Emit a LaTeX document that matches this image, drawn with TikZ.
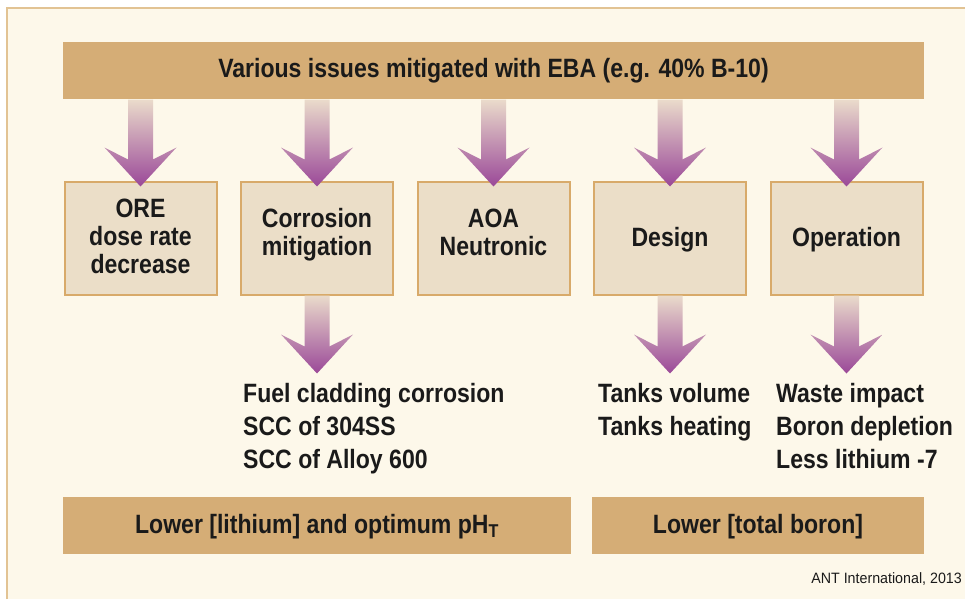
\documentclass[tikz,border=0pt]{standalone}
\usepackage{fontspec}
\setmainfont{Liberation Sans}[FakeStretch=0.87]
\newfontfamily\creditfont{Liberation Sans}[FakeStretch=0.95]
\usetikzlibrary{calc}

\definecolor{paper}{HTML}{FDF8EA}
\definecolor{frameline}{HTML}{E2C393}
\definecolor{barfill}{HTML}{D5AD76}
\definecolor{boxfill}{HTML}{EBDEC8}
\definecolor{boxline}{HTML}{D8AA6A}
\definecolor{arrtop}{HTML}{EADBCB}
\definecolor{arrbot}{HTML}{9A4898}
\definecolor{ink}{HTML}{1A1A1A}

% Broad shaded arrow: shaft from #1 down to the tip #2
\newcommand\fatarrow[2]{%
  \shade[top color=arrtop, bottom color=arrbot]
    let \p1=(#1), \p2=(#2) in
    (\x2-12.5pt,\y1) -- (\x2-12.5pt,\y2+27pt) -- (\x2-36pt,\y2+39pt) -- (\x2,\y2)
    -- (\x2+36pt,\y2+39pt) -- (\x2+12.5pt,\y2+27pt) -- (\x2+12.5pt,\y1) -- cycle;}

\tikzset{
  txt/.style={text=ink, inner sep=0pt, font=\fontsize{26.5}{28}\selectfont\bfseries},
  bar/.style={txt, fill=barfill, minimum height=57pt, text height=17pt, text depth=0pt},
  issue/.style={draw=boxline, line width=2pt, fill=boxfill, minimum width=152pt, minimum height=113pt, inner sep=0pt},
  boxtxt/.style={txt, anchor=base},
  listtxt/.style={txt, anchor=base west},
  credit/.style={text=ink, inner sep=0pt, font=\creditfont\fontsize{15}{18}\selectfont, anchor=base east}
}

\begin{document}
\begin{tikzpicture}[x=1pt, y=-1pt]
  \useasboundingbox (0,0) rectangle (965,599);
  % page and frame
  \fill[white] (0,0) rectangle (965,599);
  \fill[paper] (7,8) rectangle (965,599);
  \draw[frameline, line width=1.5pt] (7,599) -- (7,8) -- (965,8);

  % headline bar
  \node[bar, minimum width=861pt, text height=12.6pt] (top) at (493.5,71) {Various issues mitigated with EBA (e.g. 40\% B-10)};

  % issue boxes
  \node[issue] (ore)  at (140.5,238) {};
  \node[issue] (corr) at (317,238) {};
  \node[issue] (aoa)  at (493.5,238) {};
  \node[issue] (des)  at (670,238) {};
  \node[issue] (oper) at (846.5,238) {};

  \node[boxtxt] (ore-1)  at ([yshift=21pt]ore.center)  {ORE};
  \node[boxtxt] (ore-2)  at ([yshift=-7pt]ore.center)  {dose rate};
  \node[boxtxt] (ore-3)  at ([yshift=-35pt]ore.center) {decrease};
  \node[boxtxt] (corr-1) at ([yshift=11pt]corr.center) {Corrosion};
  \node[boxtxt] (corr-2) at ([yshift=-17pt]corr.center) {mitigation};
  \node[boxtxt] (aoa-1)  at ([yshift=11pt]aoa.center)  {AOA};
  \node[boxtxt] (aoa-2)  at ([yshift=-17pt]aoa.center) {Neutronic};
  \node[boxtxt] (des-1)  at ([yshift=-8.5pt]des.center) {Design};
  \node[boxtxt] (oper-1) at ([yshift=-8.5pt]oper.center) {Operation};

  % arrows from the headline into each box
  \foreach \b in {ore,corr,aoa,des,oper}{
    \coordinate (\b-in) at ([yshift=-6pt]\b.north);
    \fatarrow{top.south -| \b-in}{\b-in}
  }

  % arrows leaving three of the boxes
  \foreach \b in {corr,des,oper}{
    \coordinate (\b-out) at ([yshift=-78pt]\b.south);
    \fatarrow{\b.south}{\b-out}
  }

  % consequences listed under the arrows
  \node[listtxt] (c-1) at (243,402) {Fuel cladding corrosion};
  \node[listtxt] (c-2) at (243,435) {SCC of 304SS};
  \node[listtxt] (c-3) at (243,468) {SCC of Alloy 600};
  \node[listtxt] (d-1) at (598,402) {Tanks volume};
  \node[listtxt] (d-2) at (598,435) {Tanks heating};
  \node[listtxt] (o-1) at (776,402) {Waste impact};
  \node[listtxt] (o-2) at (776,435) {Boron depletion};
  \node[listtxt] (o-3) at (776,468) {Less lithium -7};

  % conclusion bars
  \node[bar, minimum width=508pt] (lith) at (317,525) {Lower [lithium] and optimum pH\textsubscript{T}};
  \node[bar, minimum width=332pt] (boron) at (758,525) {Lower [total boron]};

  \node[credit] (src) at (962,583) {ANT International, 2013};
\end{tikzpicture}
\end{document}
